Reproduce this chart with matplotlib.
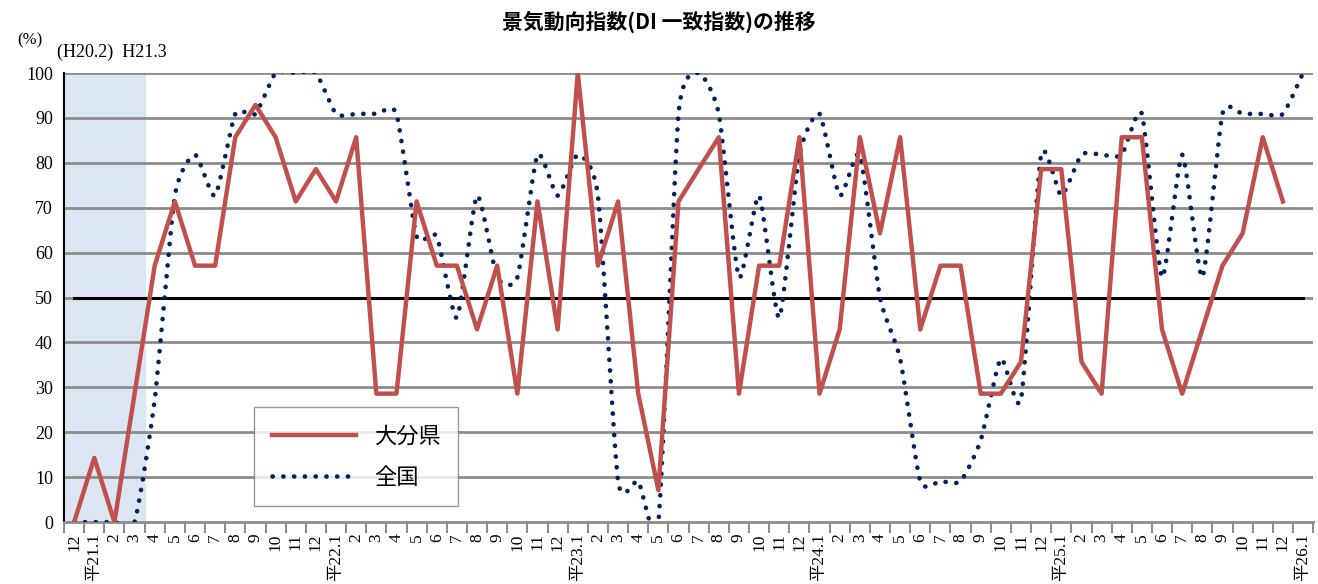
import matplotlib
matplotlib.use("Agg")
import matplotlib.pyplot as plt
import numpy as np

months = ["12", "平21.1", "2", "3", "4", "5", "6", "7", "8", "9", "10", "11", "12",
          "平22.1", "2", "3", "4", "5", "6", "7", "8", "9", "10", "11", "12",
          "平23.1", "2", "3", "4", "5", "6", "7", "8", "9", "10", "11", "12",
          "平24.1", "2", "3", "4", "5", "6", "7", "8", "9", "10", "11", "12",
          "平25.1", "2", "3", "4", "5", "6", "7", "8", "9", "10", "11", "12",
          "平26.1"]
oita = [0, 14.3, 0, 28.6, 57.1, 71.4, 57.1, 57.1, 85.7, 92.9, 85.7, 71.4, 78.6,
        71.4, 85.7, 28.6, 28.6, 71.4, 57.1, 57.1, 42.9, 57.1, 28.6, 71.4, 42.9,
        100, 57.1, 71.4, 28.6, 7.1, 71.4, 78.6, 85.7, 28.6, 57.1, 57.1, 85.7,
        28.6, 42.9, 85.7, 64.3, 85.7, 42.9, 57.1, 57.1, 28.6, 28.6, 35.7, 78.6,
        78.6, 35.7, 28.6, 85.7, 85.7, 42.9, 28.6, 42.9, 57.1, 64.3, 85.7, 71.4,
        None]
zenkoku = [0, 0, 0, 0, 27.3, 72.7, 81.8, 72.7, 90.9, 90.9, 100, 100, 100,
           90.9, 90.9, 90.9, 90.9, 63.6, 63.6, 45.5, 72.7, 54.5, 54.5, 81.8, 72.7,
           81.8, 72.7, 9.1, 9.1, 0, 90.9, 100, 90.9, 54.5, 72.7, 45.5, 81.8,
           90.9, 72.7, 81.8, 50, 36.4, 9.1, 9.1, 9.1, 18.2, 36.4, 27.3, 81.8,
           72.7, 81.8, 81.8, 81.8, 90.9, 54.5, 81.8, 54.5, 90.9, 90.9, 90.9, 90.9,
           100]

def smooth(x, y, n=30, k=0.6):
    x = np.asarray(x, float); y = np.asarray(y, float)
    px = np.concatenate([[x[0]], x, [x[-1]]]); py = np.concatenate([[y[0]], y, [y[-1]]])
    ox, oy = [], []
    for i in range(1, len(px) - 2):
        t = np.linspace(0, 1, n, endpoint=False)
        for p, o in ((px, ox), (py, oy)):
            p0, p1, p2, p3 = p[i-1], p[i], p[i+1], p[i+2]
            m1 = k * (p2 - p0) / 2; m2 = k * (p3 - p1) / 2
            h = (2*t**3 - 3*t**2 + 1)*p1 + (t**3 - 2*t**2 + t)*m1 + (-2*t**3 + 3*t**2)*p2 + (t**3 - t**2)*m2
            o.extend(h)
    ox.append(x[-1]); oy.append(y[-1])
    return np.array(ox), np.array(oy)

fig = plt.figure(figsize=(13.18, 5.84), dpi=100)
ax = fig.add_axes([0.0486, 0.106, 0.9477, 0.769])
n = len(months)
xs = np.arange(n)
ax.set_xlim(-0.5, n - 0.5)
ax.set_ylim(0, 100)
ax.axvspan(-0.5, 3.5, color="#dce6f2", zorder=0)
for v in range(10, 101, 10):
    ax.axhline(v, color="#8c8c8c", lw=2, zorder=1)
ax.plot([0, n - 1], [50, 50], color="black", lw=2.2, zorder=2)

ox = [i for i, v in enumerate(oita) if v is not None]
oy = [v for v in oita if v is not None]
ax.plot(ox, oy, color="#c0504d", lw=3.2, zorder=4, label="大分県")
sx, sy = smooth(xs, zenkoku)
ax.plot(sx, sy, color="#002060", lw=3.3, linestyle=(0, (0.05, 2.3)), dash_capstyle="round", zorder=3, label="全国")

for s in ["top", "right"]:
    ax.spines[s].set_visible(False)
ax.spines["left"].set_color("black"); ax.spines["left"].set_linewidth(1.5)
ax.spines["bottom"].set_color("#8c8c8c"); ax.spines["bottom"].set_linewidth(2)
ax.set_yticks(range(0, 101, 10))
ax.set_yticklabels([str(v) for v in range(0, 101, 10)], fontsize=13, family="Liberation Serif")
ax.tick_params(axis="y", length=0, pad=8)
ax.set_xticks(np.arange(-0.5, n, 1), minor=True)
ax.tick_params(axis="x", which="minor", length=8, color="#8c8c8c", width=1.5)
ax.set_xticks(xs)
ax.set_xticklabels(months, rotation=90, fontsize=12.5, family=["Liberation Serif", "Noto Sans CJK JP"], va="top")
ax.tick_params(axis="x", which="major", length=0, pad=8)

leg = ax.legend(loc="lower left", bbox_to_anchor=(0.152, 0.035), prop={"family": "Noto Sans CJK JP", "size": 16},
                frameon=True, fancybox=False, edgecolor="#7f7f7f", handlelength=3.8, borderpad=0.8, labelspacing=0.8, borderaxespad=0)
leg.get_frame().set_linewidth(1)

fig.text(0.5, 0.962, "景気動向指数(DI 一致指数)の推移", ha="center", va="center", fontsize=15, family="Noto Sans CJK JP", weight="bold")
fig.text(0.013, 0.93, "(%)", fontsize=12, family="Liberation Serif", va="center")
fig.text(0.043, 0.91, "(H20.2)  H21.3", fontsize=13, family="Liberation Serif", va="center")
fig.savefig("out.png", dpi=100)
